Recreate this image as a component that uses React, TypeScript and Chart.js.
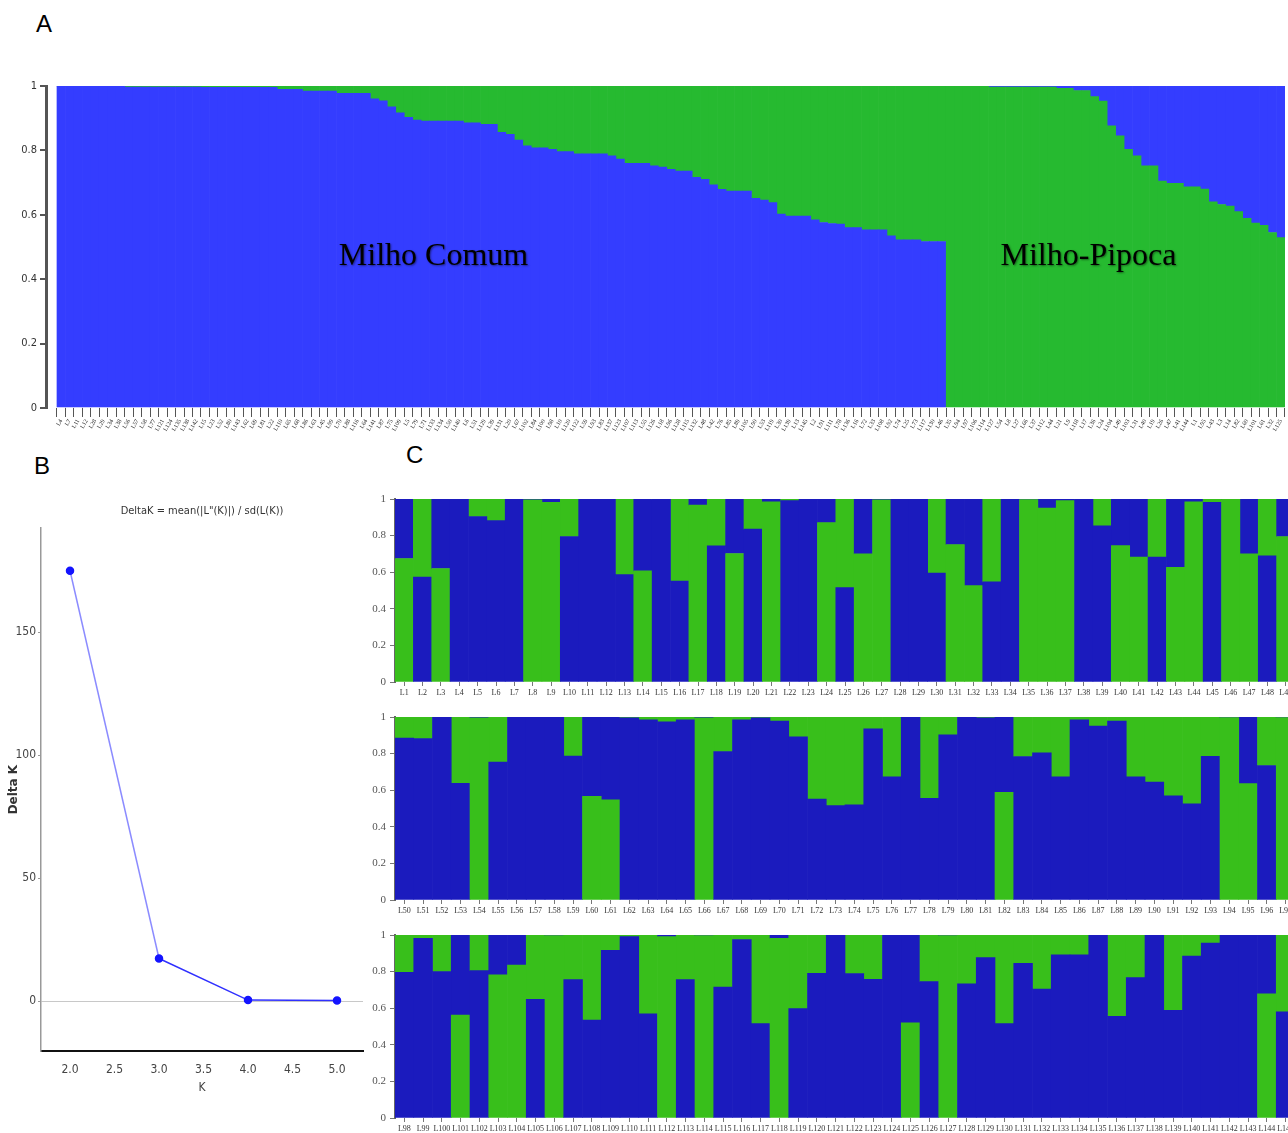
import React, { useEffect, useRef } from 'react';
import { Chart, registerables } from 'chart.js';

Chart.register(...registerables);

// ---------- Panel A: sorted membership (K = 2) ----------
const comumBlue = [
  1, 1, 1, 1, 1, 1, 1, 1,
  0.997, 0.997, 0.997, 0.997, 0.997, 0.997, 0.997, 0.997, 0.997,
  0.996, 0.996, 0.996, 0.996, 0.996, 0.996, 0.996, 0.996, 0.996,
  0.99, 0.99, 0.99,
  0.984, 0.984, 0.984, 0.984,
  0.977, 0.977, 0.977, 0.977,
  0.96, 0.954, 0.935, 0.917, 0.903, 0.894,
  0.891, 0.891, 0.891, 0.891, 0.891,
  0.886, 0.886,
  0.881, 0.881,
  0.856, 0.85, 0.832, 0.814,
  0.808, 0.808, 0.803,
  0.796, 0.796,
  0.789, 0.789, 0.789, 0.789,
  0.783, 0.773,
  0.76, 0.76, 0.76,
  0.752, 0.748, 0.741,
  0.736, 0.736,
  0.716, 0.71, 0.693, 0.679,
  0.674, 0.674, 0.674,
  0.651, 0.646, 0.638, 0.602,
  0.596, 0.596, 0.596,
  0.584, 0.576, 0.573, 0.571,
  0.56, 0.56,
  0.553, 0.553, 0.553,
  0.535,
  0.522, 0.522, 0.522,
  0.517, 0.517, 0.517,
];

const pipocaGreen = [
  1, 1, 1, 1, 1,
  0.997, 0.997, 0.997, 0.997, 0.997, 0.997, 0.997, 0.997,
  0.993, 0.993,
  0.986, 0.986,
  0.967, 0.953, 0.876, 0.845, 0.803, 0.783,
  0.752, 0.752,
  0.705,
  0.698, 0.698,
  0.687, 0.687,
  0.68, 0.64, 0.632, 0.627, 0.61, 0.589, 0.574, 0.567, 0.545, 0.529,
];

// ---------- Panel B: Evanno DeltaK ----------
const kValues = [2, 3, 4, 5];
const deltaK = [175, 17.3, 0.4, 0.2];

// ---------- Panel C: membership (blue cluster) by accession ----------
const blueRow1 = [
  0.325, 0.573, 0.38, 1, 0.904, 0.882, 1, 0.005, 0.018, 0.795,
  1, 1, 0.587, 0.393, 0.998, 0.551, 0.033, 0.744, 0.298, 0.835,
  0.016, 0.991, 0.998, 0.129, 0.516, 0.3, 0.005, 1, 1, 0.595,
  0.249, 0.473, 0.547, 1, 0.003, 0.049, 0.009, 1, 0.853, 0.255,
  0.318, 0.682, 0.373, 0.015, 0.982, 0.002, 0.3, 0.689, 0.205,
];
const blueRow2 = [
  0.885, 0.882, 0.998, 0.638, 0.004, 0.753, 1, 1, 1, 0.787,
  0.433, 0.453, 0.996, 0.984, 0.973, 0.985, 0.005, 0.811, 0.985, 0.996,
  0.978, 0.891, 0.551, 0.516, 0.52, 0.935, 0.673, 1, 0.556, 0.902,
  0.998, 0.995, 0.411, 0.784, 0.804, 0.673, 0.985, 0.951, 0.978, 0.673,
  0.644, 0.569, 0.525, 0.785, 0.003, 0.364, 0.735, 0.003,
];
const blueRow3 = [
  0.796, 0.982, 0.8, 0.438, 0.805, 0.218, 0.164, 0.649, 0.003, 0.756,
  0.535, 0.916, 0.991, 0.569, 0.009, 0.756, 0.003, 0.715, 0.975, 0.516,
  0.018, 0.598, 0.791, 1, 0.789, 0.758, 1, 0.48, 0.745, 0.003,
  0.733, 0.876, 0.516, 0.845, 0.704, 0.891, 0.891, 1, 0.556, 0.767,
  1, 0.589, 0.885, 0.956, 1, 0.998, 0.322, 0.58,
];

const accessions = Array.from({ length: 145 }, (_, i) => `L${i + 1}`);
const row1Labels = accessions.slice(0, 49);
const row2Labels = accessions.slice(49, 97);
const row3Labels = accessions.slice(97, 145);

const groupNames = ['Milho Comum', 'Milho-Pipoca'];

// ---------- styles ----------
const BLUE_A = '#343dff';
const GREEN_A = '#26ba30';
const BLUE_C = '#1b1bbe';
const GREEN_C = '#38bf1b';
const NARROW = '"Liberation Sans Narrow", "DejaVu Sans Condensed", "Arial Narrow", sans-serif';
const SERIF = '"Liberation Serif", "Times New Roman", serif';
const SANS = '"Liberation Sans", Arial, sans-serif';

const fmtQ = (v: any) => String(Math.round(Number(v) * 10) / 10);

// order of accessions in panel A (sorted by membership within each group)
const allBlue = [...blueRow1, ...blueRow2, ...blueRow3];
const idx = allBlue.map((b, i) => i);
const comumIdx = idx.filter((i) => allBlue[i] >= 0.5).sort((a, b) => allBlue[b] - allBlue[a]);
const pipocaIdx = idx.filter((i) => allBlue[i] < 0.5).sort((a, b) => allBlue[a] - allBlue[b]);
const labelsA = [...comumIdx, ...pipocaIdx].map((i) => accessions[i]);

const groupLabelPlugin = {
  id: 'groupLabels',
  afterDatasetsDraw(chart: any, _args: any, opts: any) {
    const { ctx, scales } = chart;
    const items = opts.items || [];
    ctx.save();
    ctx.font = `32px ${SERIF}`;
    ctx.fillStyle = '#000';
    ctx.textAlign = 'center';
    ctx.textBaseline = 'alphabetic';
    ctx.shadowColor = 'rgba(0,0,0,0.45)';
    ctx.shadowBlur = 2;
    ctx.shadowOffsetX = 1;
    ctx.shadowOffsetY = 1;
    for (const it of items) {
      ctx.fillText(it.text, scales.x.getPixelForValue(it.x), scales.y.getPixelForValue(it.y));
    }
    ctx.restore();
  },
};

function splitMajor(blue: number[], blueColor: string, greenColor: string) {
  const major: number[] = [];
  const minor: number[] = [];
  const majorC: string[] = [];
  const minorC: string[] = [];
  for (const b of blue) {
    const g = Math.round((1 - b) * 1000) / 1000;
    if (b >= g) {
      major.push(b); minor.push(g); majorC.push(blueColor); minorC.push(greenColor);
    } else {
      major.push(g); minor.push(b); majorC.push(greenColor); minorC.push(blueColor);
    }
  }
  return { major, minor, majorC, minorC };
}

function makeRow(canvas: HTMLCanvasElement, labels: string[], blue: number[]) {
  const s = splitMajor(blue, BLUE_C, GREEN_C);
  return new Chart(canvas, {
    type: 'bar',
    data: {
      labels,
      datasets: [
        { data: s.major, backgroundColor: s.majorC, borderWidth: 0, barPercentage: 1, categoryPercentage: 1, stack: 'q' },
        { data: s.minor, backgroundColor: s.minorC, borderWidth: 0, barPercentage: 1, categoryPercentage: 1, stack: 'q' },
      ],
    },
    options: {
      animation: false,
      responsive: false,
      layout: { padding: { top: 11, right: 45, left: 0, bottom: 0 } },
      plugins: { legend: { display: false }, tooltip: { enabled: false } },
      scales: {
        x: {
          stacked: true,
          offset: true,
          grid: { drawOnChartArea: false, offset: false, tickLength: 4, color: '#777' },
          border: { display: false },
          ticks: { autoSkip: false, maxRotation: 0, minRotation: 0, padding: 2, color: '#333', font: { family: SERIF, size: 8 } },
          afterFit: (sc: any) => { sc.height = 20; },
        },
        y: {
          stacked: true,
          min: 0,
          max: 1,
          ticks: { stepSize: 0.2, padding: 4, color: '#555', font: { family: SERIF, size: 11 }, callback: fmtQ },
          grid: { drawOnChartArea: false, tickLength: 5, color: '#777' },
          border: { color: '#666', width: 2 },
          afterFit: (sc: any) => { sc.width = 55; },
        },
      },
    } as any,
  });
}

export default function App() {
  const refA = useRef<HTMLCanvasElement>(null);
  const refB = useRef<HTMLCanvasElement>(null);
  const refC1 = useRef<HTMLCanvasElement>(null);
  const refC2 = useRef<HTMLCanvasElement>(null);
  const refC3 = useRef<HTMLCanvasElement>(null);

  useEffect(() => {
    const charts: Chart[] = [];

    // Panel A
    const values = [...comumBlue, ...pipocaGreen];
    const bottomC = [...comumBlue.map(() => BLUE_A), ...pipocaGreen.map(() => GREEN_A)];
    const topC = [...comumBlue.map(() => GREEN_A), ...pipocaGreen.map(() => BLUE_A)];
    const nA = values.length;
    charts.push(
      new Chart(refA.current!, {
        type: 'bar',
        data: {
          datasets: [
            {
              data: values.map((v, i) => ({ x: i, y: v })),
              backgroundColor: bottomC, borderWidth: 0, barPercentage: 1, categoryPercentage: 1, stack: 'q',
            },
            {
              data: values.map((v, i) => ({ x: i, y: Math.round((1 - v) * 1000) / 1000 })),
              backgroundColor: topC, borderWidth: 0, barPercentage: 1, categoryPercentage: 1, stack: 'q',
            },
          ],
        },
        options: {
          animation: false,
          responsive: false,
          layout: { padding: { top: 26, right: 1, left: 0, bottom: 0 } },
          plugins: {
            legend: { display: false },
            tooltip: { enabled: false },
            groupLabels: {
              items: [
                { text: groupNames[0], x: 43.96, y: 0.444 },
                { text: groupNames[1], x: 121.3, y: 0.444 },
              ],
            },
          },
          scales: {
            x: {
              type: 'linear',
              stacked: true,
              min: -1.797,
              max: nA - 0.5,
              offset: false,
              grid: { drawOnChartArea: false, tickLength: 9, color: '#555', lineWidth: 1 },
              border: { display: false },
              ticks: {
                stepSize: 1,
                maxTicksLimit: 1000,
                autoSkip: false,
                includeBounds: false,
                minRotation: 60,
                maxRotation: 60,
                padding: 1,
                color: '#222',
                font: { family: SERIF, size: 6 },
                callback: (v: any) => labelsA[v] ?? '',
              },
              afterBuildTicks: (sc: any) => {
                sc.ticks = sc.ticks.filter((t: any) => t.value >= 0 && t.value <= nA - 1 && Number.isInteger(t.value));
              },
              afterFit: (sc: any) => { sc.height = 30; },
            },
            y: {
              stacked: true,
              min: 0,
              max: 1,
              ticks: { stepSize: 0.2, padding: 3, color: '#333', font: { family: NARROW, size: 11 }, callback: fmtQ },
              grid: { drawOnChartArea: false, tickLength: 6, color: '#555', lineWidth: 2 },
              border: { color: '#555', width: 3 },
              afterFit: (sc: any) => { sc.width = 46; },
            },
          },
        } as any,
        plugins: [groupLabelPlugin],
      })
    );

    // Panel B
    charts.push(
      new Chart(refB.current!, {
        type: 'line',
        data: {
          datasets: [
            {
              data: kValues.map((k, i) => ({ x: k, y: deltaK[i] })),
              borderColor: '#3030ff',
              borderWidth: 1.5,
              pointRadius: 3.5,
              pointBackgroundColor: '#1414ff',
              pointBorderColor: '#1414ff',
              segment: {
                borderColor: (c: any) => (c.p0DataIndex === 0 ? 'rgba(100,100,255,0.75)' : '#3030ff'),
              },
            },
          ],
        },
        options: {
          animation: false,
          responsive: false,
          layout: { padding: { top: 0, right: 17, left: 0, bottom: 0 } },
          plugins: {
            legend: { display: false },
            tooltip: { enabled: false },
            title: {
              display: true,
              fullSize: false,
              text: 'DeltaK = mean(|L"(K)|) / sd(L(K))',
              color: '#333',
              font: { family: NARROW, size: 11, weight: 'normal' },
              padding: { top: 15, bottom: 10 },
            },
          },
          scales: {
            x: {
              type: 'linear',
              min: 1.674,
              max: 5.292,
              grid: { display: false, drawTicks: false },
              border: { color: '#111', width: 2 },
              ticks: {
                stepSize: 0.5,
                includeBounds: false,
                padding: 12,
                color: '#444',
                font: { family: NARROW, size: 12 },
                callback: (v: any) => Number(v).toFixed(1),
              },
              title: { display: true, text: 'K', color: '#444', font: { family: NARROW, size: 12 }, padding: { top: 0, bottom: 15 } },
              afterFit: (sc: any) => { sc.height = 59; },
            },
            y: {
              min: -20.3,
              max: 192.3,
              grid: {
                color: (c: any) => (c.tick && c.tick.value === 0 ? '#c8c8c8' : 'rgba(0,0,0,0)'),
                tickColor: '#999',
                tickLength: 3,
                lineWidth: 1,
              },
              border: { color: '#999', width: 1.5 },
              ticks: { stepSize: 50, includeBounds: false, padding: 2, color: '#444', font: { family: NARROW, size: 12 } },
              title: {
                display: true,
                text: 'Delta K',
                color: '#333',
                font: { family: '"DejaVu Sans", sans-serif', size: 12, weight: 'bold' },
                padding: { top: 7, bottom: 0 },
              },
              afterFit: (sc: any) => { sc.width = 41; },
            },
          },
        } as any,
      })
    );

    // Panel C
    charts.push(makeRow(refC1.current!, row1Labels, blueRow1));
    charts.push(makeRow(refC2.current!, row2Labels, blueRow2));
    charts.push(makeRow(refC3.current!, row3Labels, blueRow3));

    return () => charts.forEach((c) => c.destroy());
  }, []);

  const abs = (left: number, top: number): React.CSSProperties => ({ position: 'absolute', left, top });
  const panelLabel: React.CSSProperties = { position: 'absolute', fontFamily: SANS, fontSize: 24, lineHeight: '24px', color: '#000' };

  return (
    <div style={{ position: 'fixed', left: 0, top: 0, width: 1288, height: 1133, overflow: 'hidden', background: '#fff' }}>
      <div style={{ ...panelLabel, left: 36, top: 12 }}>A</div>
      <div style={{ ...panelLabel, left: 34, top: 454 }}>B</div>
      <div style={{ ...panelLabel, left: 406, top: 443 }}>C</div>
      <canvas ref={refA} width={1288} height={378} style={abs(0, 60)} />
      <canvas ref={refB} width={380} height={620} style={abs(0, 490)} />
      <canvas ref={refC1} width={1000} height={214} style={abs(340, 488)} />
      <canvas ref={refC2} width={1000} height={214} style={abs(340, 706)} />
      <canvas ref={refC3} width={1000} height={214} style={abs(340, 924)} />
    </div>
  );
}
